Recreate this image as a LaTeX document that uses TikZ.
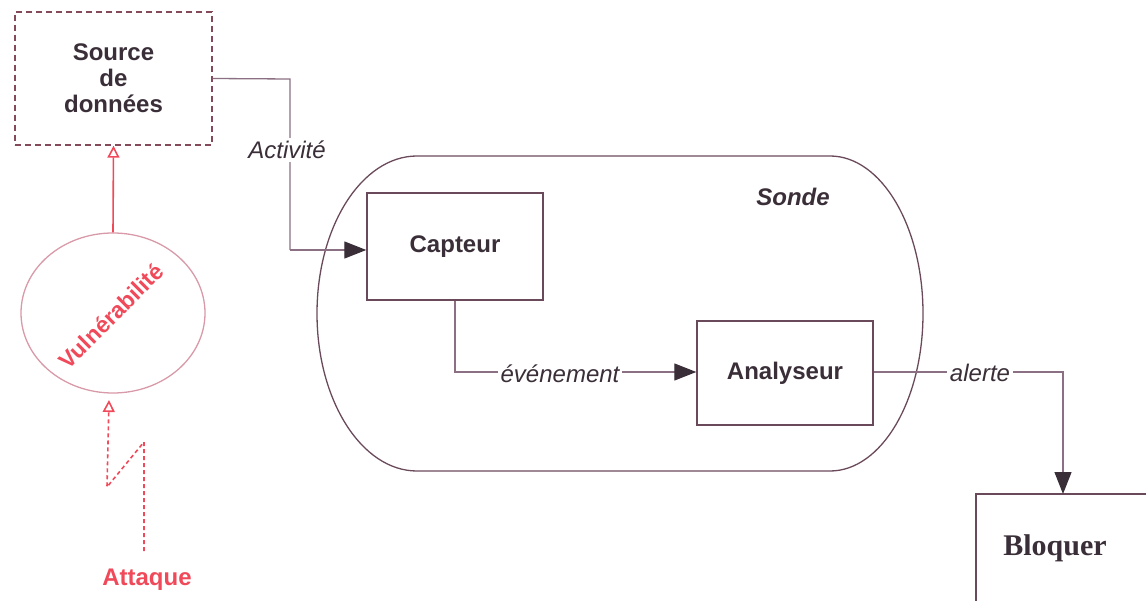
\documentclass[tikz,border=0pt]{standalone}
\usepackage{fontspec}
\setmainfont{Liberation Sans}
\newfontfamily\bloqfont{Liberation Serif}
\usetikzlibrary{arrows.meta,shapes.geometric}
\definecolor{ink}{HTML}{3A2F38}
\definecolor{edge}{HTML}{6A4A5A}
\definecolor{conn}{HTML}{8A7082}
\definecolor{rouge}{HTML}{F04A5A}
\definecolor{rose}{HTML}{D89AA8}
\tikzset{
  box/.style={draw=edge, line width=1.4pt, fill=white, text=ink, font=\fontsize{24}{26}\selectfont\bfseries, align=center, inner sep=0pt},
  conn/.style={draw=conn, line width=1.3pt},
  flow/.style={conn, -{Triangle[length=22pt,width=17pt,fill=ink,color=ink]}},
  lab/.style={fill=white, text=ink, font=\fontsize{24}{26}\selectfont\itshape, inner sep=3pt},
  redarrow/.style={draw=rouge, line width=1.6pt, -{Triangle[open,length=12pt,width=12pt,line width=1.6pt]}},
}
\begin{document}
\begin{tikzpicture}[x=1pt,y=-1pt]
\path[use as bounding box] (0,0) rectangle (1146,601);
\clip (0,0) rectangle (1146,601);
% Sonde (stadium with elliptical ends)
\draw[edge, line width=1.3pt]
  (417,156) -- (830,156)
  .. controls (881.4,156) and (923,226.5) .. (923,313.5)
  .. controls (923,400.5) and (881.4,471) .. (830,471)
  -- (417,471)
  .. controls (361.8,471) and (317,400.5) .. (317,313.5)
  .. controls (317,226.5) and (361.8,156) .. cycle;
\node[text=ink, font=\fontsize{24}{26}\selectfont\bfseries\itshape] (sondelab) at (793,197) {Sonde};
% boxes
\node[box, draw=edge!80!rouge, dash pattern=on 6pt off 4pt, minimum width=197pt, minimum height=133pt] (src) at (113.5,78.5) {Source\\de\\données};
\node[box, minimum width=176pt, minimum height=107pt] (capt) at (455,246.5) {Capteur};
\node[box, minimum width=176pt, minimum height=104pt] (ana) at (785,373) {Analyseur};
\draw[edge, line width=1.4pt, fill=white] (976,494) rectangle (1170,630);
\node[text=ink, font=\bloqfont\fontsize{30}{34}\selectfont\bfseries] (bloq) at (1055,548) {Bloquer};
\coordinate (bloqtop) at (1063,494);
% Vulnerabilite
\node[draw=rose, line width=1.3pt, ellipse, minimum width=184pt, minimum height=160pt, inner sep=0pt] (vul) at (113,313) {};
\node[text=rouge, rotate=45, font=\fontsize{23}{26}\selectfont\bfseries] (vullab) at (111,316) {Vulnérabilité};
\node[text=rouge, font=\fontsize{24}{26}\selectfont\bfseries] (att) at (147,580) {Attaque};
% connectors
\draw[conn] (src.east) -- (290,79) -- (290,250) coordinate (k1);
\draw[flow] (k1) -- (capt.west |- k1);
\node[lab] (act) at (287,150) {Activité};
\draw[flow] (capt.south) -- (455,372) -- (ana.west |- 0,372);
\node[lab] (evt) at (560,374) {événement};
\draw[flow] (ana.east |- 0,372) -- (1063,372) -- (bloqtop);
\node[lab] (alr) at (980,373) {alerte};
% red
\draw[redarrow] (vul.north) -- (src.south);
\coordinate (a1) at (144,551);
\draw[redarrow, dash pattern=on 4pt off 3pt] (a1) -- (144,442) -- (107,487) -- (109,400);
\end{tikzpicture}
\end{document}
